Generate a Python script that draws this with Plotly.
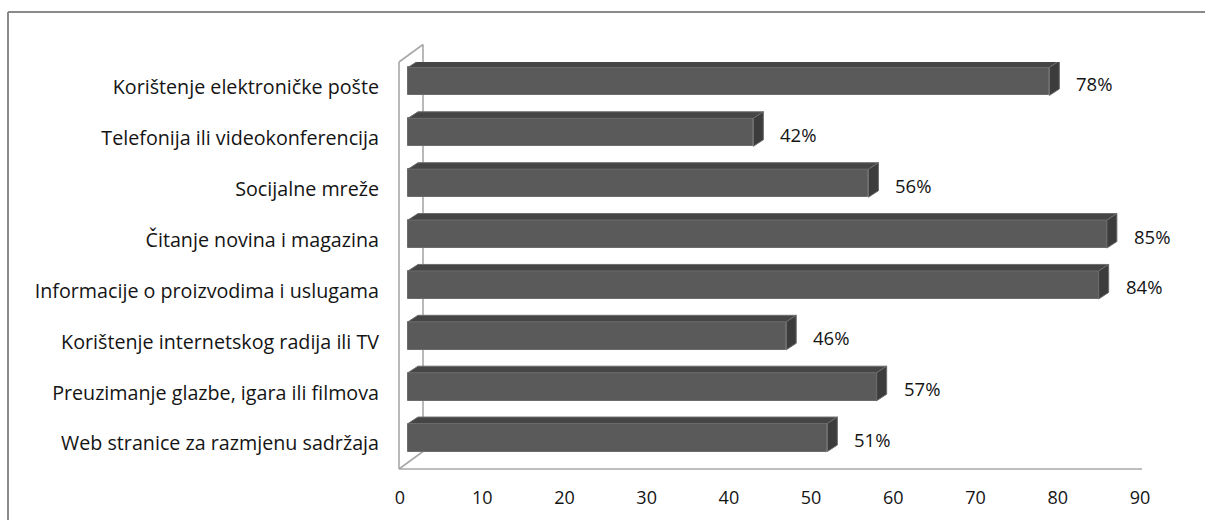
import plotly.graph_objects as go

# Share of internet users by activity (%)
categories = [
    "Korištenje elektroničke pošte",
    "Telefonija ili videokonferencija",
    "Socijalne mreže",
    "Čitanje novina i magazina",
    "Informacije o proizvodima i uslugama",
    "Korištenje internetskog radija ili TV",
    "Preuzimanje glazbe, igara ili filmova",
    "Web stranice za razmjenu sadržaja",
]
values = [78, 42, 56, 85, 84, 46, 57, 51]
x_ticks = [0, 10, 20, 30, 40, 50, 60, 70, 80, 90]

# ---- page geometry -------------------------------------------------------
W, H = 1205, 520
ML, MR, MT, MB = 400, 65, 62, 51
PW, PH = W - ML - MR, H - MT - MB
X_MAX = 90
N = len(categories)
PX_X = PW / X_MAX          # pixels per value unit
PX_Y = PH / N              # pixels per category band

# pseudo-3D depth: bars sit a little behind the front plane of the axes
BAR_SHIFT_X = 8 / PX_X
BAR_SHIFT_Y = 6 / PX_Y
BAR_DEPTH_X = 10 / PX_X
BAR_DEPTH_Y = 6.5 / PX_Y
BAR_WIDTH = 28 / PX_Y
WALL_DX, WALL_DY = 24, 17.5  # depth of the side wall, px

FRONT = "#5a5a5a"
TOP = "#454545"
SIDE = "#3c3c3c"
EDGE = "#6c6c6c"
WALL = "#a8a8a8"
TEXT = "#141414"
FONT = "Open Sans"
CAT_SIZE = 19.7
TICK_SIZE = 18
LABEL_SIZE = 18.5

idx = list(range(N))

# top faces and right-hand side faces of the bars
top_x, top_y, side_x, side_y = [], [], [], []
for i, v in zip(idx, values):
    yt = i - BAR_WIDTH / 2
    yb = i + BAR_WIDTH / 2
    top_x += [0, v, v + BAR_DEPTH_X, BAR_DEPTH_X, 0, None]
    top_y += [yt, yt, yt - BAR_DEPTH_Y, yt - BAR_DEPTH_Y, yt, None]
    side_x += [v, v + BAR_DEPTH_X, v + BAR_DEPTH_X, v, v, None]
    side_y += [yt, yt - BAR_DEPTH_Y, yb - BAR_DEPTH_Y, yb, yt, None]

fig = go.Figure()

# front-plane axes carry the category and value tick labels
fig.add_trace(go.Scatter(
    x=[0, X_MAX], y=[0, N - 1], mode="markers", marker=dict(opacity=0),
    hoverinfo="skip", showlegend=False,
))

fig.add_trace(go.Bar(
    x=values, y=idx, orientation="h", width=BAR_WIDTH,
    marker=dict(color=FRONT, line=dict(color=EDGE, width=1)),
    xaxis="x2", yaxis="y2", hoverinfo="skip", showlegend=False,
))
fig.add_trace(go.Scatter(
    x=top_x, y=top_y, mode="lines", fill="toself", fillcolor=TOP,
    line=dict(color=EDGE, width=1), xaxis="x2", yaxis="y2",
    hoverinfo="skip", showlegend=False,
))
fig.add_trace(go.Scatter(
    x=side_x, y=side_y, mode="lines", fill="toself", fillcolor=SIDE,
    line=dict(color=EDGE, width=1), xaxis="x2", yaxis="y2",
    hoverinfo="skip", showlegend=False,
))

# value labels to the right of each bar
for i, v in zip(idx, values):
    fig.add_annotation(
        x=v, y=i, xref="x2", yref="y2", text=f"{v}%", showarrow=False,
        xanchor="left", yanchor="middle", xshift=26, yshift=-2, borderpad=0,
        font=dict(family=FONT, size=LABEL_SIZE, color=TEXT),
    )


def paper_x(px):
    return (px - ML) / PW


def paper_y(py):
    return (H - MB - py) / PH


# side wall and floor edge of the 3D frame
fx, fy_top, fy_bot = ML - 1, MT, H - MB
wall_lines = [
    (fx, fy_top, fx, fy_bot),
    (fx + WALL_DX, fy_top - WALL_DY, fx + WALL_DX, fy_bot - WALL_DY),
    (fx, fy_top, fx + WALL_DX, fy_top - WALL_DY),
    (fx, fy_bot, fx + WALL_DX, fy_bot - WALL_DY),
    (fx, fy_bot, W - MR + 2, fy_bot),
]
shapes = [
    dict(type="line", xref="paper", yref="paper",
         x0=paper_x(a), y0=paper_y(b), x1=paper_x(c), y1=paper_y(d),
         line=dict(color=WALL, width=1.6), layer="below")
    for a, b, c, d in wall_lines
]
# chart border (left and top edges; the rest runs off the page)
for a, b, c, d in [(8, H + 20, 8, 12), (8, 12, W + 40, 12)]:
    shapes.append(dict(
        type="line", xref="paper", yref="paper",
        x0=paper_x(a), y0=paper_y(b), x1=paper_x(c), y1=paper_y(d),
        line=dict(color="#8a8a8a", width=2), layer="below",
    ))

fig.update_layout(
    width=W, height=H,
    margin=dict(l=ML, r=MR, t=MT, b=MB, pad=0),
    paper_bgcolor="white", plot_bgcolor="rgba(0,0,0,0)",
    font=dict(family=FONT, size=CAT_SIZE, color=TEXT),
    shapes=shapes,
    bargap=0,
    xaxis=dict(
        range=[0, X_MAX], tickvals=x_ticks, ticktext=[str(t) for t in x_ticks],
        showgrid=False, zeroline=False, showline=False, ticks="",
        ticklabelstandoff=16, tickfont=dict(family=FONT, size=TICK_SIZE, color=TEXT),
        fixedrange=True,
    ),
    yaxis=dict(
        range=[N - 0.5, -0.5], tickvals=idx, ticktext=categories,
        showgrid=False, zeroline=False, showline=False, ticks="",
        ticklabelstandoff=20, tickfont=dict(family=FONT, size=CAT_SIZE, color=TEXT),
        fixedrange=True,
    ),
    xaxis2=dict(
        overlaying="x", range=[-BAR_SHIFT_X, X_MAX - BAR_SHIFT_X],
        visible=False, fixedrange=True,
    ),
    yaxis2=dict(
        overlaying="y", range=[N - 0.5 + BAR_SHIFT_Y, -0.5 + BAR_SHIFT_Y],
        visible=False, fixedrange=True,
    ),
)

fig.write_html("out.html")
